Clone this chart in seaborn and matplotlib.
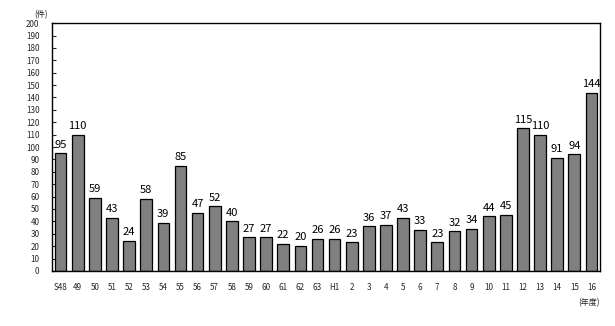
import matplotlib
matplotlib.use("Agg")
import matplotlib.pyplot as plt
import seaborn as sns
import pandas as pd

categories = ["S48", "49", "50", "51", "52", "53", "54", "55", "56", "57", "58", "59",
              "60", "61", "62", "63", "H1", "2", "3", "4", "5", "6", "7", "8", "9",
              "10", "11", "12", "13", "14", "15", "16"]
values = [95, 110, 59, 43, 24, 58, 39, 85, 47, 52, 40, 27, 27, 22, 20, 26, 26, 23,
          36, 37, 43, 33, 23, 32, 34, 44, 45, 115, 110, 91, 94, 144]
yticks = list(range(0, 201, 10))

sns.set_theme(style="white")
plt.rcParams['font.family'] = ['Noto Sans CJK JP', 'DejaVu Sans']

df = pd.DataFrame({"cat": categories, "val": values})

fig = plt.figure(figsize=(6.15, 3.26), dpi=100)
ax = fig.add_axes([0.0846, 0.169, 0.891, 0.760])
sns.barplot(data=df, x="cat", y="val", order=categories, color="#808080",
            saturation=1, edgecolor="black", linewidth=0.9, width=0.68, ax=ax)

for i, v in enumerate(values):
    ax.text(i, v + 3, str(v), ha="center", va="bottom", fontsize=8, color="black")

ax.set_xlim(-0.5, len(categories) - 0.5)
ax.set_ylim(0, 200)
ax.set_yticks(yticks)
ax.set_yticklabels([str(t) for t in yticks], fontsize=5.8)
ax.tick_params(axis="y", direction="in", length=3, width=0.8, pad=9, left=True)
ax.tick_params(axis="x", length=0, pad=9, labelsize=5.8)
ax.set_xlabel("")
ax.set_ylabel("")
for s in ax.spines.values():
    s.set_color("black")
    s.set_linewidth(1.0)
    s.set_visible(True)

fig.text(0.055, 0.955, "(件)", fontsize=5.8, ha="left", va="center")
fig.text(0.975, 0.073, "(年度)", fontsize=5.8, ha="right", va="center")

fig.savefig("out.png", dpi=100)
